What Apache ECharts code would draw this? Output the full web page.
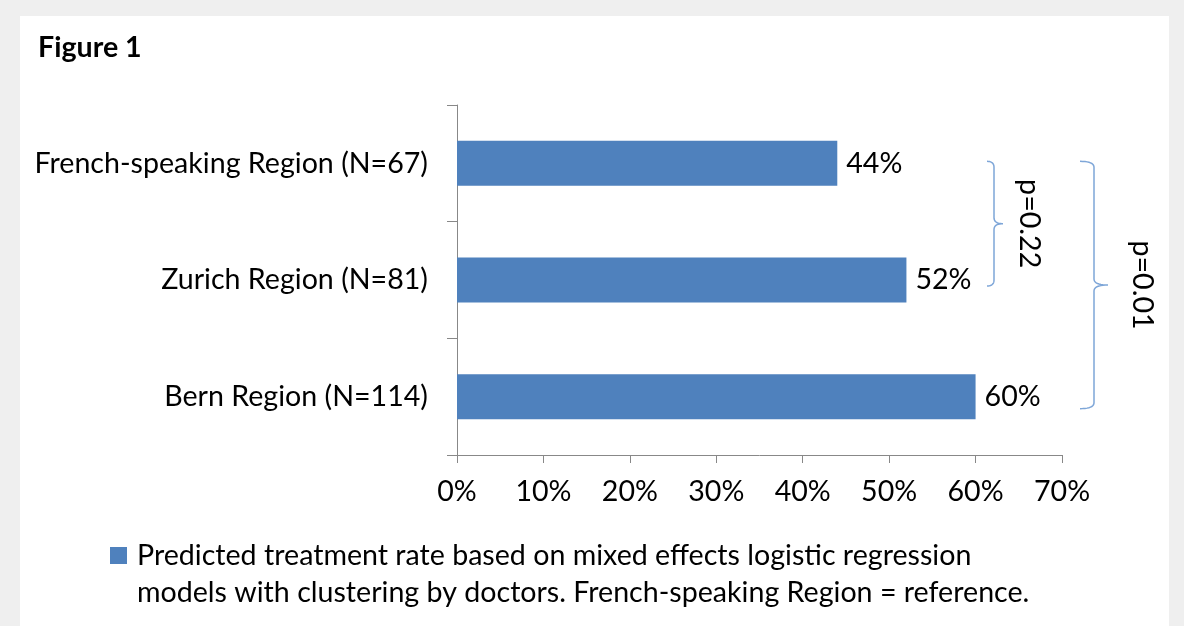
<!DOCTYPE html>
<html>
<head>
<meta charset="utf-8">
<script src="https://cdn.jsdelivr.net/npm/echarts@6/dist/echarts.min.js"></script>
<style>
  html, body { margin: 0; padding: 0; background: #efefef; }
  .panel { position: absolute; left: 20px; top: 16px; width: 1149px; height: 610px; background: #fff; }
  #chart { position: absolute; left: 0; top: 0; width: 1184px; height: 626px; }
</style>
</head>
<body>
<div class="panel"></div>
<div id="chart"></div>
<script>
// data
var regions = ['French-speaking Region (N=67)', 'Zurich Region (N=81)', 'Bern Region (N=114)'];
var rates = [44, 52, 60];
var legendName = 'Predicted treatment rate based on mixed effects logistic regression\nmodels with clustering by doctors. French-speaking Region = reference.';
// p-values between region pairs (index into regions)
var comparisons = [
  { from: 0, to: 1, label: 'p=0.22' },
  { from: 0, to: 2, label: 'p=0.01' }
];

var FONT = 'Lato, "Open Sans", sans-serif';
var FS = 28.6;
var BLUE = '#4f81bd';
var AXIS = '#888888';

var myChart = echarts.init(document.getElementById('chart'));

var option = {
  backgroundColor: 'transparent',
  animation: false,
  textStyle: { fontFamily: FONT },
  grid: { left: 457, right: 122, top: 105, bottom: 171 },
  legend: {
    left: 110,
    top: 500,
    padding: 0,
    itemWidth: 17,
    itemHeight: 17,
    icon: 'rect',
    itemGap: 0,
    // empty first line so the square sits next to the first text line
    formatter: function (name) {
      return '\n' + name;
    },
    textStyle: { fontFamily: FONT, fontSize: FS, color: '#000', lineHeight: 37, padding: [0, 0, 0, 5] },
    data: [{ name: legendName }]
  },
  xAxis: {
    type: 'value',
    min: 0,
    max: 70,
    interval: 10,
    splitLine: { show: false },
    axisLine: { show: true, lineStyle: { color: AXIS } },
    axisTick: { show: true, length: 8, lineStyle: { color: AXIS } },
    axisLabel: { formatter: '{value}%', fontSize: FS, color: '#000', margin: 22, fontFamily: FONT }
  },
  yAxis: {
    type: 'category',
    inverse: true,
    data: regions,
    axisLine: { show: true, lineStyle: { color: AXIS } },
    axisTick: { show: true, length: 10, lineStyle: { color: AXIS } },
    axisLabel: { fontSize: FS, color: '#000', margin: 29, fontFamily: FONT }
  },
  series: [
    {
      name: legendName,
      type: 'bar',
      barWidth: 45,
      data: rates,
      itemStyle: { color: BLUE },
      label: {
        show: true,
        position: 'right',
        distance: 9,
        formatter: '{c}%',
        fontSize: FS,
        color: '#000',
        fontFamily: FONT
      }
    }
  ],
  graphic: [
    {
      type: 'text',
      left: 38,
      top: 33,
      style: { text: 'Figure 1', font: 'bold ' + FS + 'px ' + FONT, fill: '#000' }
    }
  ]
};

myChart.setOption(option);

// curly brace "}" as a polyline
function quad(p0, c, p1, pts) {
  for (var t = 0.1; t <= 1.001; t += 0.1) {
    var u = 1 - t;
    pts.push([u * u * p0[0] + 2 * u * t * c[0] + t * t * p1[0], u * u * p0[1] + 2 * u * t * c[1] + t * t * p1[1]]);
  }
}
function bracePoints(x0, x1, x2, yTop, yMid, yBot) {
  var r = 6;
  var pts = [[x0, yTop]];
  quad([x0, yTop], [x1, yTop], [x1, yTop + r], pts);
  pts.push([x1, yMid - r]);
  quad([x1, yMid - r], [x1, yMid], [x2, yMid], pts);
  quad([x2, yMid], [x1, yMid], [x1, yMid + r], pts);
  pts.push([x1, yBot - r]);
  quad([x1, yBot - r], [x1, yBot], [x0, yBot], pts);
  return pts;
}

var braceX = [[987, 994, 1003, 1029], [1080, 1094, 1108, 1142]];
var extra = [];
comparisons.forEach(function (c, i) {
  var yTop = myChart.convertToPixel({ yAxisIndex: 0 }, regions[c.from]) - 2;
  var yBot = myChart.convertToPixel({ yAxisIndex: 0 }, regions[c.to]) + (i === 0 ? 6 : 12);
  var yMid = (yTop + yBot) / 2;
  var bx = braceX[i];
  extra.push({
    type: 'polyline',
    shape: { points: bracePoints(bx[0], bx[1], bx[2], yTop, yMid, yBot) },
    style: { fill: null, stroke: '#7ea6d8', lineWidth: 1.5 }
  });
  extra.push({
    type: 'text',
    x: bx[3],
    y: yMid,
    rotation: -Math.PI / 2,
    style: { text: c.label, font: FS + 'px ' + FONT, fill: '#000', align: 'center', verticalAlign: 'middle' }
  });
});
myChart.setOption({ graphic: option.graphic.concat(extra) });

window.addEventListener('resize', function () {
  myChart.resize();
});
</script>
</body>
</html>
